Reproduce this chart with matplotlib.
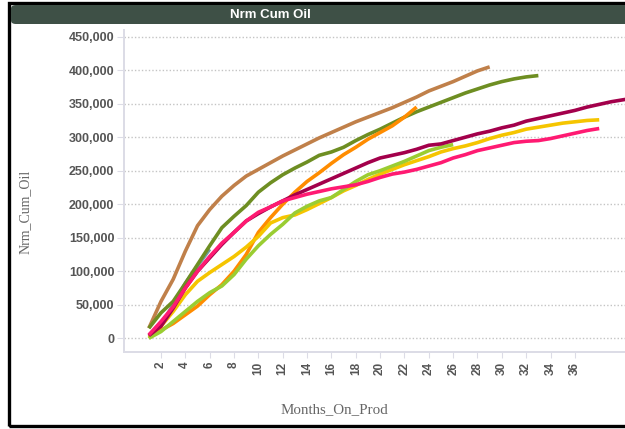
import matplotlib
matplotlib.use("Agg")
import matplotlib.pyplot as plt
from matplotlib.patches import FancyBboxPatch, Rectangle
from matplotlib.ticker import FuncFormatter

# ---------------- data (Nrm_Cum_Oil by Months_On_Prod) ----------------
brown = [15000, 55000, 88000, 130000, 168000, 192000, 212000, 228000, 242000, 252000,
         262000, 272000, 281000, 290000, 299000, 307000, 315000, 323000, 330000, 337000,
         344000, 352000, 360000, 369000, 376000, 383000, 391000, 399000, 405000]
olive = [15000, 38000, 55000, 82000, 110000, 138000, 165000, 182000, 198000, 218000,
         232000, 244000, 254000, 263000, 273000, 278000, 285000, 295000, 304000, 312000,
         321000, 330000, 338000, 345000, 352000, 359000, 366000, 372000, 378000, 383000,
         387000, 390000, 392000]
orange = [3000, 12000, 22000, 35000, 48000, 65000, 80000, 100000, 125000, 158000,
          180000, 200000, 218000, 234000, 247000, 261000, 274000, 285000, 297000, 307000,
          317000, 330000, 345000]
maroon = [4000, 18000, 45000, 75000, 100000, 120000, 140000, 158000, 175000, 186000,
          196000, 205000, 214000, 222000, 230000, 238000, 246000, 254000, 262000, 269000,
          273000, 277000, 282000, 288000, 290000, 295000, 300000, 305000, 309000, 314000,
          318000, 324000, 328000, 332000, 336000, 340000, 345000, 349000, 353000, 356000,
          359000]
pink = [5000, 25000, 47000, 75000, 100000, 122000, 142000, 158000, 175000, 188000,
        196000, 205000, 210000, 215000, 219000, 223000, 226000, 229000, 234000, 240000,
        245000, 248000, 252000, 257000, 262000, 269000, 274000, 280000, 284000, 288000,
        292000, 294000, 295000, 298000, 302000, 306000, 310000, 313000]
gold = [0, 18000, 40000, 65000, 85000, 98000, 110000, 122000, 136000, 152000,
        172000, 180000, 184000, 192000, 201000, 210000, 220000, 228000, 237000, 245000,
        252000, 259000, 265000, 271000, 278000, 283000, 287000, 292000, 298000, 303000,
        307000, 312000, 315000, 318000, 321000, 323000, 325000, 326000]
yellowgreen = [0, 10000, 25000, 40000, 55000, 68000, 78000, 95000, 118000, 138000,
               155000, 170000, 187000, 197000, 205000, 210000, 222000, 234000, 244000, 250000,
               257000, 264000, 272000, 280000, 285000, 289000]
teal = [3000, 20000, 50000, 82000, 108000, 133000]

x_ticks = list(range(2, 37, 2))
y_ticks = list(range(0, 450001, 50000))

series = [
    (teal, "#6f9aa6"),
    (brown, "#c0804a"),
    (olive, "#6e8e22"),
    (orange, "#ff8c00"),
    (gold, "#f5c500"),
    (yellowgreen, "#9acd32"),
    (maroon, "#a3004b"),
    (pink, "#ff1a72"),
]

W, H = 625, 429
fig = plt.figure(figsize=(W / 100, H / 100), dpi=100)

# outer frame and title bar
fig.patches.append(Rectangle((9 / W, 1 - 426 / H), 1.2, (426 - 3) / H,
                             transform=fig.transFigure, fill=False,
                             edgecolor="black", linewidth=2.4, zorder=0))
fig.patches.append(FancyBboxPatch((11 / W, 1 - 24 / H), 1.0, 19 / H,
                                  boxstyle="round,pad=0,rounding_size=0.008",
                                  transform=fig.transFigure, facecolor="#3e5046",
                                  edgecolor="none", zorder=1))
fig.text(270 / W, 1 - 14.5 / H, "Nrm Cum Oil", color="white", fontsize=9.5,
         fontweight="bold", family="Liberation Sans", ha="center", va="center")

ax = fig.add_axes([124 / W, 1 - 352 / H, (626 - 124) / W, (352 - 30) / H])
for data, col in series:
    months = list(range(1, len(data) + 1))
    ax.plot(months, data, color=col, linewidth=2.6, solid_capstyle="butt",
            solid_joinstyle="round")

ax.set_xlim(-1.04, 40.2)
ax.set_ylim(-20500, 460000)
ax.set_xticks(x_ticks)
ax.set_yticks(y_ticks)
ax.yaxis.set_major_formatter(FuncFormatter(lambda v, p: f"{int(v):,}"))
ax.grid(axis="y", linestyle=(0, (1, 1.5)), color="#c4c4c4", linewidth=1)
ax.grid(axis="x", visible=False)
for s in ["top", "right"]:
    ax.spines[s].set_visible(False)
for s in ["left", "bottom"]:
    ax.spines[s].set_color("#dcdce6")
    ax.spines[s].set_linewidth(1.4)
ax.tick_params(axis="y", length=5, color="#dcdce6", labelsize=9, labelcolor="#555555", pad=2)
ax.tick_params(axis="x", length=4, color="#dcdce6", labelsize=8.5, labelcolor="#555555",
               labelrotation=90, pad=3)
for lab in ax.get_yticklabels() + ax.get_xticklabels():
    lab.set_fontweight("bold")
    lab.set_family("Liberation Sans")

fig.text(25 / W, 1 - 212 / H, "Nrm_Cum_Oil", rotation=90, fontsize=10,
         family="Liberation Serif", color="#666666", ha="center", va="center")
fig.text(334 / W, 1 - 410 / H, "Months_On_Prod", fontsize=10.8,
         family="Liberation Serif", color="#666666", ha="center", va="center")

fig.savefig("out.png", dpi=100)
